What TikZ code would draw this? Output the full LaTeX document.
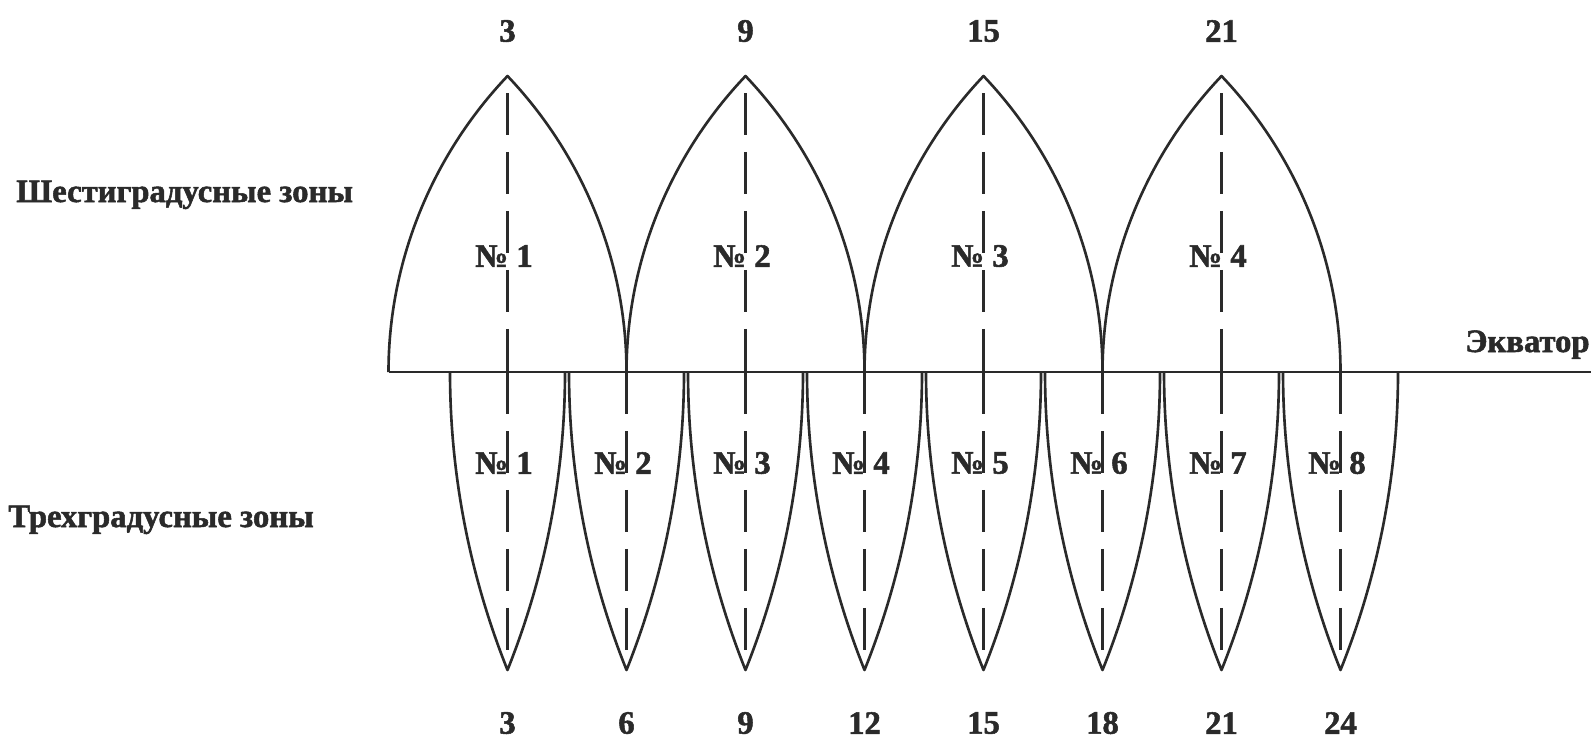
\documentclass[tikz,border=0pt]{standalone}
\usepackage{fontspec}
\setmainfont{Liberation Serif}[BoldFeatures={FakeBold=1.6}]
\usepackage{xcolor}
\usepackage{tikz}
\usetikzlibrary{positioning}

\definecolor{ink}{HTML}{2A2A2A}

\begin{document}
\begin{tikzpicture}[
  x=0.02cm, y=-0.02cm,
  font=\bfseries\fontsize{18.6}{21}\selectfont,
  every node/.style={text=ink,inner sep=0pt},
  outline/.style={draw=ink,line width=1.5pt,line join=round},
  axis/.style={draw=ink,line width=1.3pt,dash pattern=on 0.84cm off 0.34cm},
  sixzone/.pic={
    \draw[outline] (-119,0) .. controls (-119,-110) and (-76,-216) .. (0,-296)
                   .. controls (76,-216) and (119,-110) .. (119,0);
    \draw[axis,dash phase=0.84cm] (0,-296) -- (0,0);
  },
  threezone/.pic={
    \draw[outline] (-57.5,0) .. controls (-57.5,102) and (-38,203) .. (0,298)
                   .. controls (38,203) and (57.5,102) .. (57.5,0);
    \draw[axis] (0,0) -- (0,298);
  }
]
\useasboundingbox (0,0) rectangle (1591,738);

% Equator
\draw[outline] (388.5,372) -- (1591,372);
\node[anchor=base west] (eqname) at (1465,352) {Экватор};

% Six-degree zones above the equator
\pic at (507.5,372)  {sixzone};
\pic at (745.5,372)  {sixzone};
\pic at (983.5,372)  {sixzone};
\pic at (1221.5,372) {sixzone};

% Three-degree zones below the equator
\pic at (507.5,372)  {threezone};
\pic at (626.5,372)  {threezone};
\pic at (745.5,372)  {threezone};
\pic at (864.5,372)  {threezone};
\pic at (983.5,372)  {threezone};
\pic at (1102.5,372) {threezone};
\pic at (1221.5,372) {threezone};
\pic at (1340.5,372) {threezone};

% Central meridians on top
\node (top3)  at (507.5,31)  {3};
\node (top9)  at (745.5,31)  {9};
\node (top15) at (983.5,31)  {15};
\node (top21) at (1221.5,31) {21};

% Central meridians at the bottom
\node (bot3)  at (507.5,723)  {3};
\node (bot6)  at (626.5,723)  {6};
\node (bot9)  at (745.5,723)  {9};
\node (bot12) at (864.5,723)  {12};
\node (bot15) at (983.5,723)  {15};
\node (bot18) at (1102.5,723) {18};
\node (bot21) at (1221.5,723) {21};
\node (bot24) at (1340.5,723) {24};

% Zone numbers
\node (six1) at (504,256)  {№ 1};
\node (six2) at (742,256)  {№ 2};
\node (six3) at (980,256)  {№ 3};
\node (six4) at (1218,256) {№ 4};

\node (three1) at (504,463)  {№ 1};
\node (three2) at (623,463)  {№ 2};
\node (three3) at (742,463)  {№ 3};
\node (three4) at (861,463)  {№ 4};
\node (three5) at (980,463)  {№ 5};
\node (three6) at (1099,463) {№ 6};
\node (three7) at (1218,463) {№ 7};
\node (three8) at (1337,463) {№ 8};

% Row captions
\node[anchor=base west] (sixname)   at (16,202) {Шестиградусные зоны};
\node[anchor=base west] (threename) at (8,527)  {Трехградусные зоны};
\end{tikzpicture}
\end{document}
